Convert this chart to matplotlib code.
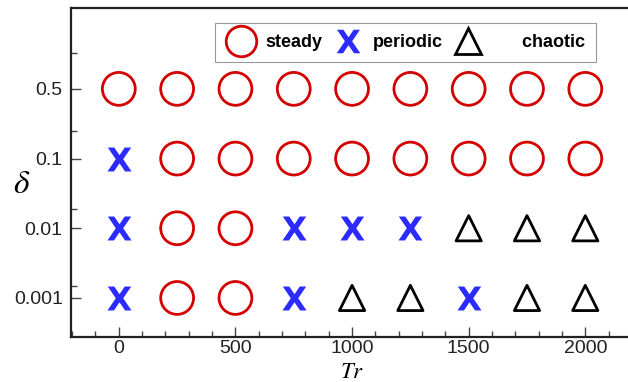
import matplotlib
matplotlib.use("Agg")
import matplotlib.pyplot as plt
from matplotlib.lines import Line2D
from matplotlib.ticker import MultipleLocator, FixedLocator

tr_values = [0, 250, 500, 750, 1000, 1250, 1500, 1750, 2000]
delta_labels = ["0.001", "0.01", "0.1", "0.5"]
# regime per delta row (S=steady, P=periodic, C=chaotic)
regime_0001 = ["P", "S", "S", "P", "C", "C", "P", "C", "C"]
regime_001 = ["P", "S", "S", "P", "P", "P", "C", "C", "C"]
regime_01 = ["P", "S", "S", "S", "S", "S", "S", "S", "S"]
regime_05 = ["S", "S", "S", "S", "S", "S", "S", "S", "S"]
rows = [regime_0001, regime_001, regime_01, regime_05]

plt.rcParams['font.family'] = ['Liberation Sans', 'DejaVu Sans']
plt.rcParams['mathtext.fontset'] = 'dejavusans'

fig = plt.figure(figsize=(6.28, 3.82), dpi=100)
W, H = 628, 382
ax = fig.add_axes([71 / W, 1 - 337 / H, (W - 71) / W + 0.01, (337 - 8) / H])

XMARK = r"$\mathbf{X}$"
styles = {
    "S": dict(marker="o", s=560, facecolors="none", edgecolors="#d40000", linewidths=2.0),
    "P": dict(marker=XMARK, s=300, color="#2b2bff", linewidths=0),
    "C": dict(marker="^", s=330, facecolors="none", edgecolors="black", linewidths=2.0),
}

for yi, row in enumerate(rows):
    for key in "SPC":
        xs = [tr_values[i] for i, r in enumerate(row) if r == key]
        if xs:
            ax.scatter(xs, [yi] * len(xs), zorder=3, clip_on=False, **styles[key])

ax.set_xlim(-205, 2210)
ax.set_ylim(-0.56, 4.16)
ax.set_yticks(range(len(delta_labels)))
ax.set_yticklabels(delta_labels)
ax.yaxis.set_minor_locator(FixedLocator([0.17, 1.28, 2.40, 3.52]))
ax.xaxis.set_major_locator(MultipleLocator(500))
ax.xaxis.set_minor_locator(MultipleLocator(100))

for s in ["left", "bottom", "top"]:
    ax.spines[s].set_linewidth(1.6)
    ax.spines[s].set_color("#222222")
ax.spines["right"].set_visible(False)

ax.tick_params(which="major", direction="in", length=7, width=1.0, labelsize=14,
               color="#444444", labelcolor="#222222", pad=6)
ax.tick_params(axis="x", which="major", pad=2)
ax.tick_params(which="minor", direction="in", length=4, width=1.0, color="#444444")
ax.tick_params(axis="x", which="both", top=False)

fig.text(22 / W, 1 - 185 / H, r"$\delta$", fontsize=24, ha="center", va="center",
         math_fontfamily="stix")
fig.text(352 / W, 1 - 371 / H, r"$Tr$", fontsize=16.5, ha="center", va="center",
         math_fontfamily="stix")

handles = [
    Line2D([], [], marker="o", ls="none", markersize=22, markerfacecolor="none",
           markeredgecolor="#d40000", markeredgewidth=2.0),
    Line2D([], [], marker=XMARK, ls="none", markersize=17, color="#2b2bff",
           markeredgewidth=0),
    Line2D([], [], marker="^", ls="none", markersize=19, markerfacecolor="none",
           markeredgecolor="black", markeredgewidth=2.0),
]
labels = ["steady", "periodic", "      chaotic"]
leg = ax.legend(handles, labels, loc="center", bbox_to_anchor=(0.594, 0.895), ncol=3,
                frameon=True, fancybox=False, edgecolor="#999999", framealpha=1,
                prop=dict(family="Liberation Sans", weight="bold", size=13),
                handletextpad=0.5, columnspacing=0.55, handlelength=1.7,
                borderpad=0.6, borderaxespad=0)
leg.get_frame().set_linewidth(0.8)

fig.savefig("out.png", dpi=100)
